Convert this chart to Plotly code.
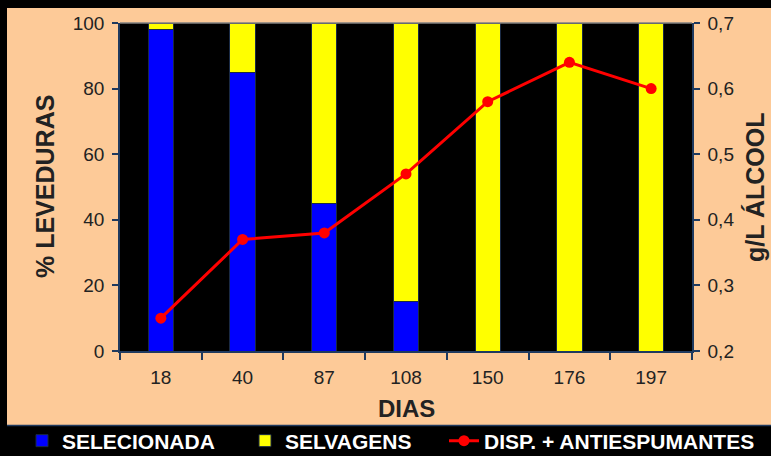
import plotly.graph_objects as go

# Sampling days and yeast population shares (%)
dias = ["18", "40", "87", "108", "150", "176", "197"]
selecionada = [98, 85, 45, 15, 0, 0, 0]
selvagens = [2, 15, 55, 85, 100, 100, 100]
# Alcohol level (g/L) for the dispersant + antifoam treatment
alcool = [0.25, 0.37, 0.38, 0.47, 0.58, 0.64, 0.60]

W, H = 771, 456
ML, MR, MT, MB = 120, 79, 23, 105
PW, PH = W - ML - MR, H - MT - MB


def px_x(px):
    return (px - ML) / PW


def px_y(py):
    return (H - MB - py) / PH


NAVY = "#1F3A5F"
TXT = "#222222"
FONT = "Liberation Sans, Arial, sans-serif"
TITLE_FONT = dict(family=FONT, color=TXT, size=25, weight="bold")
LEGEND_FONT = dict(family=FONT, color="#FFFFFF", size=21, weight="bold")

fig = go.Figure()
fig.add_trace(go.Bar(
    x=dias, y=selecionada, name="SELECIONADA", legend="legend",
    marker=dict(color="#0000FF", line=dict(color="#1A2A44", width=1)),
))
fig.add_trace(go.Bar(
    x=dias, y=selvagens, name="SELVAGENS", legend="legend2",
    marker=dict(color="#FFFF00", line=dict(color="#1A2A44", width=1)),
))
fig.add_trace(go.Scatter(
    x=dias, y=alcool, name="DISP. + ANTIESPUMANTES", yaxis="y2",
    legend="legend3",
    mode="lines+markers",
    line=dict(color="#FF0000", width=3),
    marker=dict(color="#FF0000", size=11),
))

shapes = [
    # black frame: top band and left band
    dict(type="rect", xref="paper", yref="paper", layer="below",
         x0=px_x(-2), x1=px_x(W + 2), y0=px_y(8), y1=px_y(-2),
         fillcolor="#000000", line=dict(width=0)),
    dict(type="rect", xref="paper", yref="paper", layer="below",
         x0=px_x(-2), x1=px_x(7), y0=px_y(H + 2), y1=px_y(-2),
         fillcolor="#000000", line=dict(width=0)),
    # legend strip along the bottom
    dict(type="rect", xref="paper", yref="paper", layer="below",
         x0=px_x(-2), x1=px_x(W + 2), y0=px_y(H + 2), y1=px_y(425),
         fillcolor="#000000", line=dict(width=0)),
    dict(type="line", xref="paper", yref="paper", layer="below",
         x0=px_x(7), x1=px_x(W + 2), y0=px_y(425.5), y1=px_y(425.5),
         line=dict(color=NAVY, width=1.5)),
    # grey line along the 100 % level
    dict(type="line", xref="paper", yref="paper", layer="above",
         x0=0, x1=1, y0=1, y1=1, line=dict(color="#808080", width=1.5)),
]

# axis titles
annotations = [
    dict(text="% LEVEDURAS", xref="paper", yref="paper",
         x=px_x(45), y=0.5, xanchor="center", yanchor="middle",
         textangle=-90, showarrow=False, font=TITLE_FONT),
    dict(text="g/L ÁLCOOL", xref="paper", yref="paper",
         x=px_x(755), y=0.5, xanchor="center", yanchor="middle",
         textangle=-90, showarrow=False, font=TITLE_FONT),
    dict(text="DIAS", xref="paper", yref="paper",
         x=0.5, y=px_y(408), xanchor="center", yanchor="middle",
         showarrow=False, font=dict(TITLE_FONT, size=24)),
]

axis_common = dict(
    showline=True, linecolor=NAVY, linewidth=1.5,
    ticks="outside", tickcolor=NAVY, tickwidth=1.5,
    tickfont=dict(family=FONT, color=TXT, size=19),
    showgrid=False, zeroline=False,
)


def legend_at(text_left_px):
    # one legend box per series, laid out along the bottom strip
    return dict(
        orientation="h",
        xref="paper", yref="paper",
        x=px_x(text_left_px - 40), xanchor="left",
        y=px_y(441), yanchor="middle",
        bgcolor="rgba(0,0,0,0)",
        font=LEGEND_FONT,
        itemwidth=30,
    )


fig.update_layout(
    width=W, height=H,
    margin=dict(l=ML, r=MR, t=MT, b=MB, pad=0, autoexpand=False),
    paper_bgcolor="#FDCA98",
    plot_bgcolor="#000000",
    barmode="stack",
    bargap=0.69,
    separators=",.",
    font=dict(family=FONT, color=TXT, size=18),
    shapes=shapes,
    annotations=annotations,
    showlegend=True,
    legend=legend_at(62),
    legend2=legend_at(285),
    legend3=legend_at(484),
    xaxis=dict(
        axis_common, type="category",
        ticklen=7, tickson="boundaries", ticklabelstandoff=8,
    ),
    yaxis=dict(
        axis_common, range=[0, 100], dtick=20,
        ticklen=6, ticklabelstandoff=4,
    ),
    yaxis2=dict(
        axis_common, overlaying="y", side="right",
        range=[0.2, 0.7], dtick=0.1, tickformat=".1f",
        ticklen=6, ticklabelstandoff=4,
    ),
)

fig.write_html("out.html")
